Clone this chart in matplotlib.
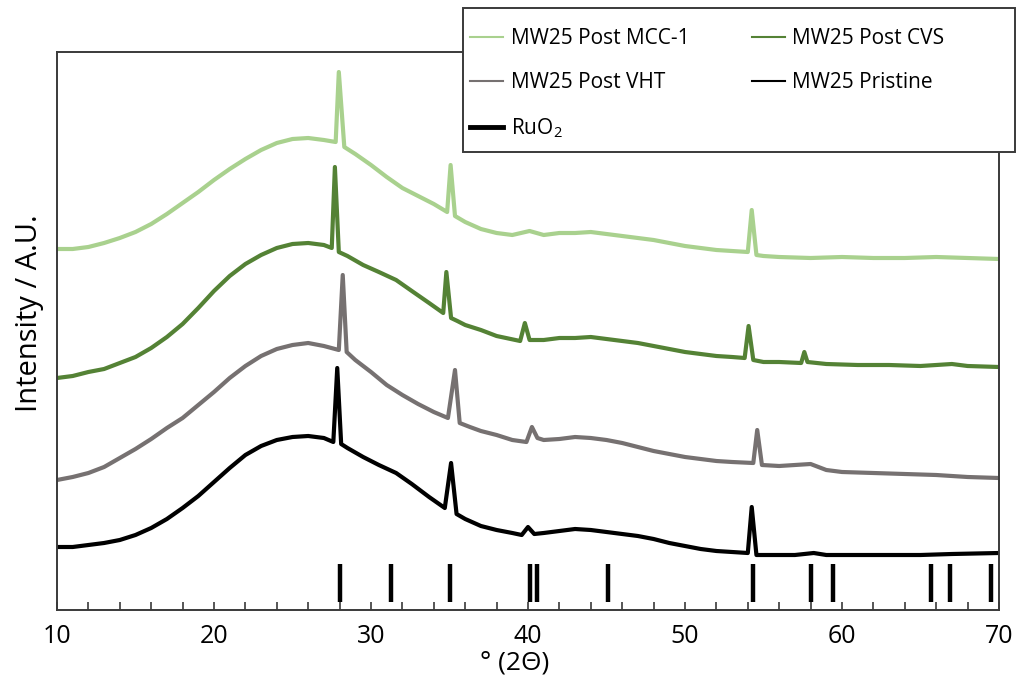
import matplotlib
matplotlib.use("Agg")
import matplotlib.pyplot as plt
from matplotlib.lines import Line2D
from matplotlib.patches import Rectangle

plt.rcParams['font.family'] = ['Open Sans', 'DejaVu Sans']
plt.rcParams['mathtext.fontset'] = 'custom'
plt.rcParams['mathtext.rm'] = 'Open Sans'
plt.rcParams['mathtext.it'] = 'Open Sans'

# Stacked XRD patterns (arbitrary intensity units, vertically offset)
x_mcc = [10, 11, 12, 13, 14, 15, 16, 17, 18, 19, 20, 21, 22, 23, 24, 25, 26, 27,
         27.75, 27.95, 28.3, 29, 30, 31, 32, 33, 34, 34.85, 35.07, 35.35, 36, 37,
         38, 39, 40.1, 41, 42, 43, 44, 45, 46, 47, 48, 49, 50, 51, 52, 53, 54.0,
         54.25, 54.55, 55, 56, 58, 60, 62, 64, 66, 68, 70]
y_mcc = [361, 361, 363, 367, 372, 378, 386, 396, 407, 418, 430, 441, 451, 460,
         467, 471, 472, 470, 468, 538, 463, 456, 445, 433, 422, 414, 406, 398,
         445, 394, 388, 381, 377, 375, 379, 375, 377, 377, 378, 376, 374, 372,
         370, 367, 364, 362, 360, 359, 358, 400, 355, 354, 353, 352, 353, 352,
         352, 353, 352, 351]

x_cvs = [10, 11, 12, 13, 14, 15, 16, 17, 18, 19, 20, 21, 22, 23, 24, 25, 26, 27,
         27.5, 27.7, 27.95, 28.5, 29.5, 30.5, 31.6, 32.6, 33.7, 34.6, 34.8, 35.1,
         35.5, 36, 37, 38, 39.5, 39.8, 40.1, 41, 42, 43, 44, 45, 46, 47, 48, 49,
         50, 51, 52, 53, 53.8, 54.05, 54.35, 55, 56, 57.4, 57.6, 57.8, 59, 61, 63,
         65, 67, 68, 70]
y_cvs = [232, 234, 238, 241, 247, 253, 262, 273, 286, 302, 319, 334, 346, 355,
         362, 366, 367, 365, 362, 443, 358, 354, 345, 338, 330, 319, 307, 297,
         338, 292, 289, 285, 280, 274, 269, 287, 270, 270, 272, 272, 273, 271,
         269, 267, 264, 261, 258, 256, 254, 253, 252, 284, 250, 248, 248, 247,
         258, 248, 246, 245, 245, 244, 246, 244, 243]

x_vht = [10, 11, 12, 13, 14, 15, 16, 17, 18, 19, 20, 21, 22, 23, 24, 25, 26, 27,
         27.95, 28.2, 28.45, 29, 30, 31, 32, 33, 34, 34.9, 35.35, 35.65, 36.3, 37,
         38, 39, 39.9, 40.25, 40.6, 41, 42, 43, 44, 45, 46, 47, 48, 49, 50, 51,
         52, 53, 54.35, 54.6, 54.9, 56, 58, 59, 60, 62, 64, 66, 68, 70]
y_vht = [130, 133, 137, 143, 152, 161, 171, 182, 192, 205, 218, 232, 244, 254,
         261, 265, 267, 264, 260, 335, 258, 250, 238, 225, 215, 206, 198, 192,
         240, 187, 183, 179, 175, 170, 168, 183, 172, 170, 171, 173, 172, 170,
         167, 163, 159, 156, 153, 151, 149, 148, 147, 180, 145, 144, 146, 140,
         138, 137, 136, 135, 133, 132]

x_pri = [10, 11, 12, 13, 14, 15, 16, 17, 18, 19, 20, 21, 22, 23, 24, 25, 26, 27,
         27.6, 27.85, 28.1, 28.5, 29.5, 30.5, 31.6, 32.6, 33.7, 34.7, 35.1, 35.45,
         36, 37, 38, 39, 39.6, 40.0, 40.4, 41, 42, 43, 44, 45, 46, 47, 48, 49, 50,
         51, 52, 53, 54.0, 54.25, 54.55, 55.5, 57, 58.2, 59, 61, 63, 65, 67, 70]
y_pri = [63, 63, 65, 67, 70, 75, 82, 91, 102, 114, 128, 142, 155, 164, 170,
         173, 174, 172, 168, 242, 166, 162, 153, 145, 137, 126, 113, 102, 147,
         96, 91, 84, 80, 77, 75, 83, 76, 77, 79, 81, 80, 78, 76, 74, 71, 67, 64,
         61, 59, 58, 57, 103, 55, 55, 55, 57, 55, 55, 55, 55, 56, 57]

# RuO2 reference reflections (2-theta, degrees)
ruo2_pos = [28.0, 31.25, 35.06, 40.15, 40.6, 45.1, 54.3, 58.0, 59.4, 65.7, 66.9, 69.5]

labels = ['MW25 Post MCC-1', 'MW25 Post CVS', 'MW25 Post VHT', 'MW25 Pristine']
colors = ['#a9d18e', '#548235', '#767171', '#000000']
ref_label = r'RuO$_\mathregular{2}$'

fig = plt.figure(figsize=(10.18, 6.84), dpi=100)
ax = fig.add_axes([57 / 1018, 74 / 684, 942 / 1018, 558 / 684])

series = [(x_mcc, y_mcc), (x_cvs, y_cvs), (x_vht, y_vht), (x_pri, y_pri)]
for (xs, ys), c in zip(series, colors):
    ax.plot(xs, ys, color=c, lw=3.0, solid_joinstyle='round', zorder=2)

ax.vlines(ruo2_pos, 8, 46, colors='black', lw=3.2, zorder=2)

ax.set_xlim(10, 70)
ax.set_ylim(0, 558)
ax.set_yticks([])
ax.set_xticks(range(10, 71, 10))
ax.set_xticks(range(10, 71, 2), minor=True)
ax.tick_params(axis='x', which='both', direction='in', length=6, width=1.2,
               color='#3a3a3a', labelsize=18, pad=10, labelcolor='black')
for s in ax.spines.values():
    s.set_color('#3a3a3a')
    s.set_linewidth(1.4)

ax.set_ylabel('Intensity / A.U.', fontsize=21)
ax.yaxis.set_label_coords(-0.014, 0.532)
ax.set_xlabel('° (2Θ)', fontsize=19)
ax.xaxis.set_label_coords(0.486, -0.073)

# Legend box
box = Rectangle((463 / 1018, 532 / 684), 552 / 1018, 144 / 684,
                transform=fig.transFigure, facecolor='white', edgecolor='#3a3a3a',
                lw=1.4, clip_on=False, zorder=4)
ax.add_patch(box)

handles = [Line2D([], [], color=colors[0], lw=1.5),
           Line2D([], [], color=colors[2], lw=1.5),
           Line2D([], [], color='black', lw=3.5),
           Line2D([], [], color=colors[1], lw=1.5),
           Line2D([], [], color=colors[3], lw=1.5)]
names = [labels[0], labels[2], ref_label, labels[1], labels[3]]
leg = ax.legend(handles, names, ncol=2, loc='upper left',
                bbox_to_anchor=(470 / 1018, 1 - 28 / 684),
                bbox_transform=fig.transFigure, frameon=False, fontsize=15,
                handlelength=1.6, handletextpad=0.35, labelspacing=1.12,
                columnspacing=3.0, borderpad=0, borderaxespad=0)
leg.set_zorder(5)

fig.savefig('out.png', dpi=100)
